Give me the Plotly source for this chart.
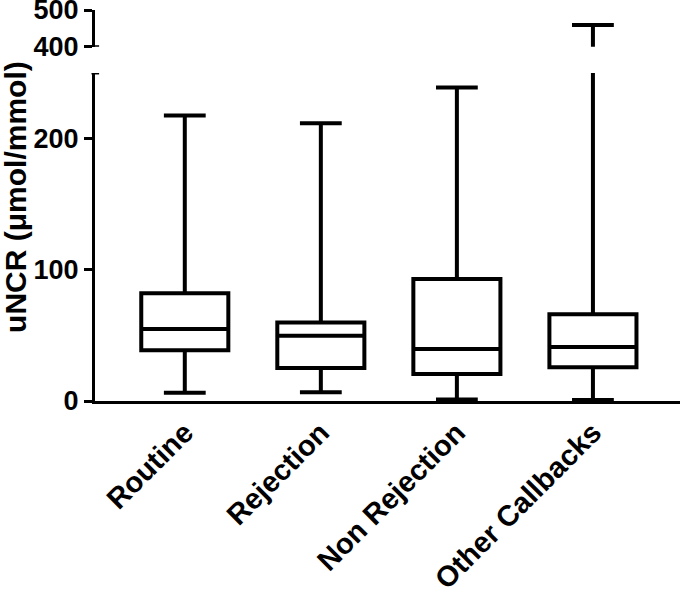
import plotly.graph_objects as go

categories = ["Routine", "Rejection", "Non Rejection", "Other Callbacks"]
lower_whisker = [6.2, 6.7, 1.1, 0.8]
q1_vals = [38.6, 25.2, 20.6, 25.7]
median_vals = [54.8, 49.7, 39.6, 41.2]
q3_vals = [82.2, 59.8, 93.0, 66.2]
upper_whisker = [217.5, 211.7, 239.0, 459.0]

lower_ticks = [0, 100, 200]
upper_ticks = [400, 500]

FONT = "Liberation Sans, Arial, Helvetica, sans-serif"
LW = 4

fig = go.Figure()
fig.add_trace(go.Box(
    x=categories, q1=q1_vals, median=median_vals, q3=q3_vals,
    lowerfence=lower_whisker, upperfence=upper_whisker,
    width=0.64, whiskerwidth=0.48,
    line=dict(color="black", width=LW), fillcolor="rgba(255,255,255,0)",
    boxpoints=False, showlegend=False, xaxis="x", yaxis="y",
))
fig.add_trace(go.Box(
    x=categories, q1=q1_vals, median=median_vals, q3=q3_vals,
    lowerfence=lower_whisker, upperfence=upper_whisker,
    width=0.64, whiskerwidth=0.48,
    line=dict(color="black", width=LW), fillcolor="rgba(255,255,255,0)",
    boxpoints=False, showlegend=False, xaxis="x2", yaxis="y2",
))

ytickfont = dict(family=FONT, size=27, color="black", weight=700)
xtickfont = dict(family=FONT, size=29, color="black", weight=700)

fig.update_layout(
    width=685, height=589,
    margin=dict(l=95, r=5, t=10, b=187.5),
    paper_bgcolor="white", plot_bgcolor="white",
    xaxis=dict(
        domain=[0, 1], anchor="y", range=[-0.66, 3.64],
        categoryorder="array", categoryarray=categories,
        showline=True, linecolor="black", linewidth=3,
        ticks="", showgrid=False, zeroline=False,
        tickangle=-45, tickfont=xtickfont, automargin=False,
        ticklabeloverflow="allow",
    ),
    xaxis2=dict(
        domain=[0, 1], anchor="y2", matches="x", range=[-0.66, 3.64],
        categoryorder="array", categoryarray=categories,
        showline=False, showticklabels=False, ticks="", showgrid=False,
        zeroline=False,
    ),
    yaxis=dict(
        domain=[0, 0.839], anchor="x", range=[0, 250],
        tickvals=lower_ticks, ticktext=[str(v) for v in lower_ticks],
        showline=True, linecolor="black", linewidth=3,
        ticks="outside", ticklen=8, tickwidth=3, tickcolor="black",
        showgrid=False, zeroline=False, tickfont=ytickfont, automargin=False,
        ticklabeloverflow="allow",
    ),
    yaxis2=dict(
        domain=[0.906, 1], anchor="x2", range=[400, 500],
        tickvals=upper_ticks, ticktext=[str(v) for v in upper_ticks],
        showline=True, linecolor="black", linewidth=3,
        ticks="outside", ticklen=8, tickwidth=3, tickcolor="black",
        showgrid=False, zeroline=False, tickfont=ytickfont, automargin=False,
        ticklabeloverflow="allow",
    ),
    annotations=[dict(
        text="uNCR (μmol/mmol)", textangle=-90,
        x=-0.135, xref="paper", y=0.522, yref="paper",
        xanchor="center", yanchor="middle", showarrow=False,
        font=dict(family=FONT, size=30, color="black", weight=700),
    )],
    shapes=[
        dict(type="line", xref="paper", yref="y", x0=-0.006, x1=0.007,
             y0=250, y1=250, line=dict(color="black", width=3)),
        dict(type="line", xref="paper", yref="y2", x0=-0.003, x1=0.007,
             y0=400, y1=400, line=dict(color="black", width=3)),
    ],
)

fig.write_html("out.html", config={"displayModeBar": False},
               post_script="document.body.style.margin='0';")
